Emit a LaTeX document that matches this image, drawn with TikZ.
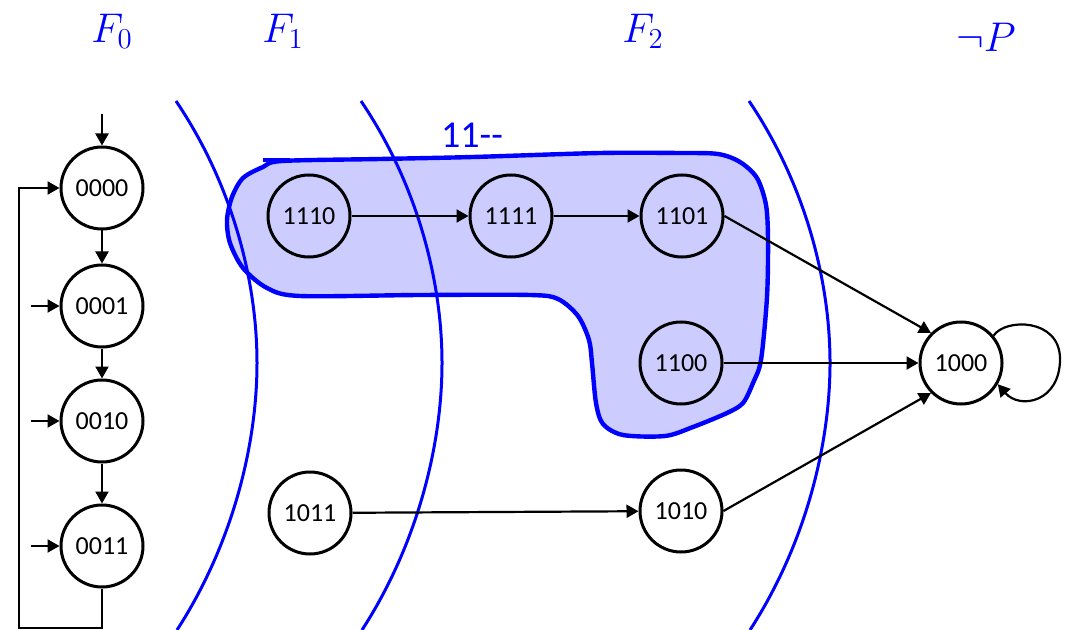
\documentclass[tikz,border=0pt]{standalone}
\usepackage{fontspec}
\setmainfont{Carlito}
\usetikzlibrary{arrows.meta}

\tikzset{
  state/.style={circle, draw, line width=1.5pt, minimum size=41pt, inner sep=0pt,
    font=\fontsize{13}{15}\selectfont},
  trans/.style={-{Triangle[length=6pt, width=6.5pt]}, line width=1.1pt},
  frontier/.style={blue, line width=1.5pt},
  region/.style={draw=blue, fill=blue!20, line width=2.2pt},
  flabel/.style={blue, font=\fontsize{21}{24}\selectfont},
}

\begin{document}
\begin{tikzpicture}[x=0.5pt, y=-0.5pt]
    \useasboundingbox (0,0) rectangle (1068,630);

    % Region 11--
    \filldraw[region] plot[smooth cycle, tension=0.5] coordinates {
      (282,161) (380,159) (473,157) (600,153) (680,153) (718,154) (740,162)
      (757,178) (766,205) (768,240) (767,297) (761,360) (753,383) (743,403)
      (727,413) (693,427) (665,436) (623,435) (603,424) (596,403) (592,363)
      (589,340) (578,316) (558,299) (530,295) (420,295) (300,296) (267,288)
      (243,268) (230,243) (227,220) (232,197) (243,178) (263,167)};
    \draw[blue, line width=2.2pt] (263,160) -- (290,160);
    \node[blue, font=\fontsize{19}{22}\selectfont] (lbl) at (472,135) {11{-}{-}};

    % Frontiers
    \draw[frontier] (176,101) .. controls (232,184) and (257,280) .. (257,363)
      .. controls (257,446) and (232,545) .. (177,630);
    \draw[frontier] (361,101) .. controls (417,184) and (442,280) .. (442,363)
      .. controls (442,446) and (417,545) .. (362,630);
    \draw[frontier] (749,101) .. controls (805,184) and (830,280) .. (830,363)
      .. controls (830,446) and (805,545) .. (750,630);

    \node[flabel] (f0) at (112,31) {$F_0$};
    \node[flabel] (f1) at (283,31) {$F_1$};
    \node[flabel] (f2) at (643,31) {$F_2$};
    \node[flabel] (np) at (986,37) {$\neg P$};

    % Initial states
    \node[state] (q0000) at (102,188) {0000};
    \node[state] (q0001) at (102,306) {0001};
    \node[state] (q0010) at (102,421) {0010};
    \node[state] (q0011) at (102,546) {0011};
    \coordinate (in0) at (102,114);
    \coordinate (in1) at (31,306);
    \coordinate (in2) at (31,421);
    \coordinate (in3) at (31,546);
    \coordinate (lb) at (19,628);

    \draw[trans] (in0) -- (q0000);
    \draw[trans] (in1) -- (q0001);
    \draw[trans] (in2) -- (q0010);
    \draw[trans] (in3) -- (q0011);
    \draw[trans] (q0000) -- (q0001);
    \draw[trans] (q0001) -- (q0010);
    \draw[trans] (q0010) -- (q0011);
    \draw[trans] (q0011.south) |- (lb) |- (q0000.west);

    % Other states
    \node[state] (q1110) at (309,216) {1110};
    \node[state] (q1111) at (511,216) {1111};
    \node[state] (q1101) at (682,216) {1101};
    \node[state] (q1100) at (681,363) {1100};
    \node[state] (q1011) at (310,513) {1011};
    \node[state] (q1010) at (681,511) {1010};
    \node[state] (q1000) at (961,363) {1000};
    \coordinate (lt) at (1060,359);

    \draw[trans] (q1110) -- (q1111);
    \draw[trans] (q1111) -- (q1101);
    \draw[trans] (q1101.east) -- (q1000.135);
    \draw[trans] (q1100) -- (q1000);
    \draw[trans] (q1010.east) -- (q1000.-135);
    \draw[trans] (q1011) -- (q1010);
    \draw[trans] (q1000.40) .. controls (1005,318) and (1060,318) .. (lt)
      .. controls (1060,402) and (1020,410) .. (q1000.-30);
\end{tikzpicture}
\end{document}
